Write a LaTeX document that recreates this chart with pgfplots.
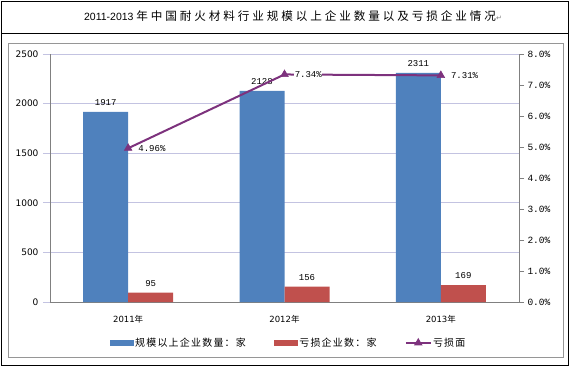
\documentclass[border=0pt]{standalone}
\usepackage{pgfplots}
\pgfplotsset{compat=1.18}
\usepackage{fontspec}
\setmainfont{DejaVu Sans}
\newfontfamily\cjk{Noto Sans CJK SC}
\newfontfamily\cjkt[LetterSpace=25]{Noto Sans CJK SC}
\newfontfamily\cjkl[LetterSpace=12]{Noto Sans CJK SC}
\newfontfamily\arial{Liberation Sans}
\newfontfamily\mono{Liberation Mono}
\newfontfamily\dv{DejaVu Sans}
\definecolor{barblue}{RGB}{79,129,189}
\definecolor{barred}{RGB}{192,80,77}
\definecolor{linepur}{RGB}{125,50,125}
\definecolor{gridc}{RGB}{195,195,225}
\definecolor{axisg}{RGB}{128,128,128}
\definecolor{frameg}{RGB}{150,150,150}
\begin{document}
\begin{tikzpicture}
\useasboundingbox (0,0) rectangle (570pt,-367pt);
% frames
\draw[black, line width=1pt] (1.5pt,-1pt) rectangle (568.5pt,-365.5pt);
\draw[black, line width=1pt] (1.5pt,-33pt) -- (568.5pt,-33pt);
\draw[frameg, line width=1pt] (8pt,-43pt) rectangle (563pt,-357pt);
\node[anchor=center] at (293pt,-16.5pt) {\arial\fontsize{10.5}{12}\selectfont 2011-2013 {\cjkt\fontsize{11.6}{12}\selectfont 年中国耐火材料行业规模以上企业数量以及亏损企业情况}{\dv\fontsize{7}{8}\selectfont\color{gray}↵}};
\begin{axis}[
  at={(50pt,-302pt)}, anchor=south west,
  scale only axis, width=469pt, height=248pt,
  xmin=-0.5, xmax=2.5, ymin=0, ymax=2500,
  ytick={0,500,1000,1500,2000,2500},
  yticklabels={0,500,1000,1500,2000,2500},
  xtick={0,1,2},
  xticklabels={2011{\cjk 年},2012{\cjk 年},2013{\cjk 年}},
  x tick label style={font=\dv\fontsize{8.5}{10}\selectfont, yshift=-3pt},
  y tick label style={font=\dv\fontsize{9}{10}\selectfont, xshift=-1pt},
  axis x line*=bottom, axis y line*=left,
  axis line style={axisg, line width=0.8pt},
  ymajorgrids, grid style={gridc, line width=0.8pt},
  tick align=outside, major tick length=7pt,
  y tick style={gridc, line width=0.8pt},
  x tick style={draw=none},
  ybar=0pt, bar width=45pt,
  point meta=explicit symbolic,
  nodes near coords,
  nodes near coords style={font=\mono\fontsize{9}{10}\selectfont, text=black, inner sep=2pt, yshift=4pt},
  clip=false,
]
\addplot[fill=barblue, draw=none] coordinates {(0,1917) [1917] (1,2128) [2128] (2,2311) [2311]};
\addplot[fill=barred, draw=none] coordinates {(0,95) [95] (1,156) [156] (2,169) [169]};
\end{axis}
\begin{axis}[
  at={(50pt,-302pt)}, anchor=south west,
  scale only axis, width=469pt, height=248pt,
  xmin=-0.5, xmax=2.5, ymin=0, ymax=8,
  axis x line=none, axis y line*=right,
  axis line style={axisg, line width=0.8pt},
  ytick={0,1,2,3,4,5,6,7,8},
  yticklabels={0.0\%,1.0\%,2.0\%,3.0\%,4.0\%,5.0\%,6.0\%,7.0\%,8.0\%},
  y tick label style={font=\mono\fontsize{9.5}{10}\selectfont, xshift=0pt},
  tick align=outside, major tick length=5pt,
  y tick style={axisg, line width=0.8pt},
  clip=false,
  legend columns=3,
  legend style={at={(0.128,-0.165)}, anchor=west, draw=none, fill=none,
    inner sep=0pt, font=\cjkl\fontsize{10}{11}\selectfont,
    /tikz/every even column/.append style={column sep=27pt},
    nodes={inner sep=1.5pt}},
]
\addlegendimage{legend image code/.code={\fill[barblue] (0pt,-2.5pt) rectangle (23pt,2.5pt);}}
\addlegendentry{规模以上企业数量：家}
\addlegendimage{legend image code/.code={\fill[barred] (0pt,-2.5pt) rectangle (23pt,2.5pt);}}
\addlegendentry{亏损企业数：家}
\addlegendimage{legend image code/.code={\draw[linepur, line width=1.5pt, mark=triangle*, mark size=3.5pt, mark options={fill=linepur, draw=linepur}, mark repeat=2, mark phase=2] plot coordinates {(0pt,0pt) (12.5pt,0pt) (25pt,0pt)};}}
\addlegendentry{亏损面}
\addplot[linepur, line width=2pt, mark=triangle*, mark size=4.5pt,
  mark options={fill=linepur, draw=linepur, line width=0.5pt},
  point meta=explicit symbolic, nodes near coords,
  every node near coord/.append style={anchor=west, xshift=9.5pt, fill=white, inner sep=0.5pt,
     font=\mono\fontsize{9}{10}\selectfont, text=black},
  forget plot]
  coordinates {(0,4.96) [4.96\%] (1,7.34) [7.34\%] (2,7.31) [7.31\%]};
\end{axis}
\end{tikzpicture}
\end{document}
